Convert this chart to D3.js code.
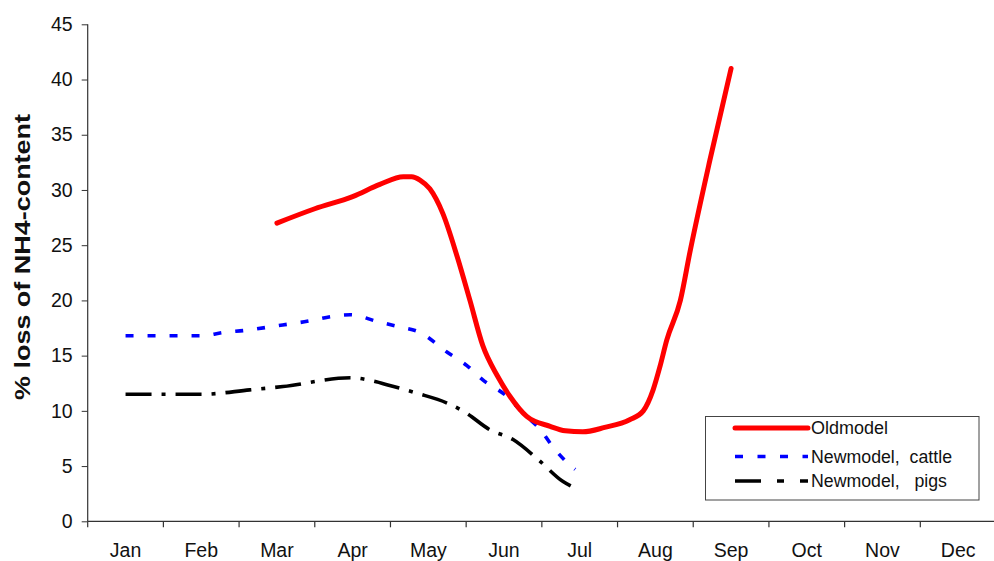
<!DOCTYPE html>
<html>
<head>
<meta charset="utf-8">
<script src="https://cdn.jsdelivr.net/npm/d3@7"></script>
<style>
  html, body { margin: 0; padding: 0; background: #fff; }
  svg { display: block; }
</style>
</head>
<body>
<svg id="chart" width="994" height="561"></svg>
<script>
// ---- data ----
const months = ["Jan","Feb","Mar","Apr","May","Jun","Jul","Aug","Sep","Oct","Nov","Dec"];
const yTicks = [0,5,10,15,20,25,30,35,40,45];

// month position (0 = Jan centre) and % loss
const oldModelT = [2.0,2.5,3.0,3.36,3.67,3.78,3.89,4.02,4.19,4.38,4.55,4.72,4.91,5.08,5.30,5.61,5.81,6.04,6.33,6.66,6.84,6.97,7.06,7.15,7.33,7.46,7.72,8.0];
const oldModelV = [27.0,28.3,29.4,30.5,31.2,31.2,30.9,30.1,27.9,24.0,20.0,15.9,13.2,11.3,9.5,8.6,8.2,8.1,8.5,9.2,10.0,11.9,14.0,16.4,20.0,24.5,32.7,41.0];

const cattleT = [0,1.0,1.3,1.6,2.0,2.3,2.97,3.32,3.62,3.89,4.25,4.51,4.72,5.04,5.25,5.48,5.65,5.87,5.94];
const cattleV = [16.8,16.8,17.1,17.3,17.7,18.0,18.7,18.1,17.6,17.1,15.3,14.1,12.8,11.3,9.8,8.3,6.7,5.1,4.7];

const pigsT = [0,1.0,1.64,2.08,2.97,3.27,3.49,3.85,4.25,4.48,4.81,5.12,5.45,5.78,5.91];
const pigsV = [11.5,11.5,11.9,12.2,13.0,12.7,12.3,11.6,10.7,9.9,8.3,7.4,5.6,3.6,3.1];

const seriesNames = ["Oldmodel","Newmodel,  cattle","Newmodel,   pigs"];

(function () {
// ---- layout ----
const svg = d3.select("#chart");
const pLeft = 87.7, pRight = 996, pTop = 24.3, pBottom = 521.3;

const xBand = d3.scaleBand().domain(months).range([pLeft, pRight]).padding(0);
const bw = xBand.bandwidth();
const x = d3.scaleLinear().domain([0, 11]).range([pLeft + bw/2, pLeft + bw/2 + 11*bw]);
const y = d3.scaleLinear().domain([0, 45]).range([pBottom, pTop]);

const font = "Arial, 'Liberation Sans', Helvetica, sans-serif";

// y axis
const yAxis = svg.append("g").attr("transform", `translate(${pLeft},0)`)
  .call(d3.axisLeft(y).tickValues(yTicks).tickSize(6).tickPadding(9));
yAxis.selectAll("text").attr("font-family", font).attr("font-size", 19.5).attr("fill", "#111");
yAxis.selectAll("line").attr("stroke", "#333");
yAxis.select(".domain").attr("stroke", "#333").attr("stroke-width", 1.2).attr("d", `M0,${pTop}V${pBottom}`);

// x axis: ticks at band boundaries, labels at centres
const xg = svg.append("g").attr("transform", `translate(0,${pBottom})`);
xg.append("line").attr("x1", pLeft).attr("x2", pRight).attr("y1", 0).attr("y2", 0)
  .attr("stroke", "#333").attr("stroke-width", 1.2);
const boundaries = months.map(m => xBand(m)).concat([pRight]);
xg.selectAll("line.tk").data(boundaries).join("line").attr("class","tk")
  .attr("x1", d => d).attr("x2", d => d).attr("y1", 0).attr("y2", 6)
  .attr("stroke", "#333").attr("stroke-width", 1.2);
xg.selectAll("text").data(months).join("text")
  .attr("x", d => xBand(d) + bw/2).attr("y", 36)
  .attr("text-anchor", "middle").attr("font-family", font).attr("font-size", 19.5).attr("fill", "#111")
  .text(d => d);

// y label
svg.append("text")
  .attr("transform", `translate(30,257) rotate(-90)`)
  .attr("text-anchor", "middle").attr("font-family", font).attr("font-size", 22)
  .attr("font-weight", "bold").attr("fill", "#111")
  .attr("textLength", 286).attr("lengthAdjust", "spacingAndGlyphs")
  .text("% loss of NH4-content");

// lines
const line = d3.line().x(d => x(d[0])).y(d => y(d[1])).curve(d3.curveMonotoneX);
const zip = (a, b) => a.map((t, i) => [t, b[i]]);

const styles = [
  {stroke: "#ff0000", width: 5, dash: null},
  {stroke: "#0000ff", width: 3.6, dash: "8,14"},
  {stroke: "#000000", width: 3.6, dash: "26,10,4,10"}
];
const data = [zip(oldModelT, oldModelV), zip(cattleT, cattleV), zip(pigsT, pigsV)];

[2, 1, 0].forEach(i => {
  const p = svg.append("path").datum(data[i]).attr("d", line)
    .attr("fill", "none").attr("stroke", styles[i].stroke)
    .attr("stroke-width", styles[i].width).attr("stroke-linecap", i === 0 ? "round" : "butt")
    .attr("stroke-linejoin", "round");
  if (styles[i].dash) p.attr("stroke-dasharray", styles[i].dash);
});

// legend
const lg = svg.append("g");
lg.append("rect").attr("x", 705.5).attr("y", 416.5).attr("width", 273.5).attr("height", 83.5)
  .attr("fill", "#fff").attr("stroke", "#444").attr("stroke-width", 1);
const rowY = [428, 456.5, 481];
const textLen = [77, 141, 136];
const legendDash = [null, "8,14.5", "26,16,7,16"];
seriesNames.forEach((name, i) => {
  const l = lg.append("line").attr("x1", 735).attr("x2", 808).attr("y1", rowY[i]).attr("y2", rowY[i])
    .attr("stroke", styles[i].stroke).attr("stroke-width", i === 0 ? 5 : 3.6)
    .attr("stroke-linecap", i === 0 ? "round" : "butt");
  if (legendDash[i]) l.attr("stroke-dasharray", legendDash[i]);
  lg.append("text").attr("x", 811).attr("y", rowY[i] + 6)
    .attr("font-family", font).attr("font-size", 17.5).attr("fill", "#111")
    .attr("textLength", textLen[i]).attr("lengthAdjust", "spacingAndGlyphs")
    .style("white-space", "pre")
    .text(name);
});
})();
</script>
</body>
</html>
